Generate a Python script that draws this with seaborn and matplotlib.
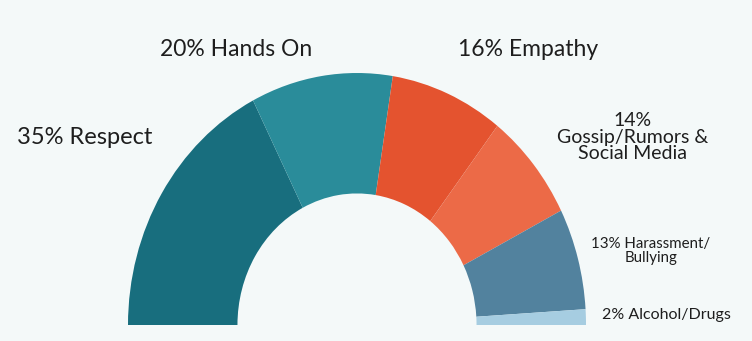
import matplotlib
matplotlib.use("Agg")
import matplotlib.pyplot as plt
import seaborn as sns

# Survey topics shown on the half donut, in order from left to right
topics = ["Respect", "Hands On", "Empathy", "Gossip/Rumors & Social Media",
          "Harassment/Bullying", "Alcohol/Drugs"]
shares = [35, 20, 16, 14, 13, 2]
colors = ["#186e7e", "#2a8c9a", "#e4532f", "#ec6a47", "#52829e", "#a6cde1"]

label_texts = ["35% Respect", "20% Hands On", "16% Empathy",
               "14%\nGossip/Rumors &\nSocial Media",
               "13% Harassment/\nBullying", "2% Alcohol/Drugs"]

sns.set_theme(style="white")
plt.rcParams["font.family"] = ["Lato", "DejaVu Sans"]

bg = "#f4f9f9"
W, H = 752, 341
fig = plt.figure(figsize=(W / 100, H / 100), dpi=100, facecolor=bg)
ax = fig.add_axes([0, 0, 1, 1])
ax.set_facecolor(bg)

# the lower half of the circle is an invisible wedge so the data fill 180 degrees
values = shares + [sum(shares)]
wedge_colors = colors + ["none"]
wedges, _ = ax.pie(values, colors=wedge_colors, startangle=180, counterclock=False,
                   radius=1.0, wedgeprops=dict(width=0.478, linewidth=0))

# pixel geometry of the arc: centre and radii (slightly taller than wide)
cx, cy = 357, 16
rx, ry = 229, 252
ax.set_aspect("auto")
ax.set_xlim(-cx / rx, (W - cx) / rx)
ax.set_ylim(-cy / ry, (H - cy) / ry)
ax.axis("off")

# label placement in figure pixels (from top), font size in points, line spacing
positions = [(85, 137, 17, 1.0), (236, 50, 16.5, 1.0), (528, 50, 16.5, 1.0),
             (633, 137, 14, 0.98), (651, 251, 10.8, 1.05), (666, 315, 11.5, 1.0)]
for text, (px, py, fs, ls) in zip(label_texts, positions):
    fig.text(px / W, 1 - py / H, text, ha="center", va="center",
             fontsize=fs, color="#1e1e1e", linespacing=ls)

fig.savefig("out.png", dpi=100, facecolor=bg)
